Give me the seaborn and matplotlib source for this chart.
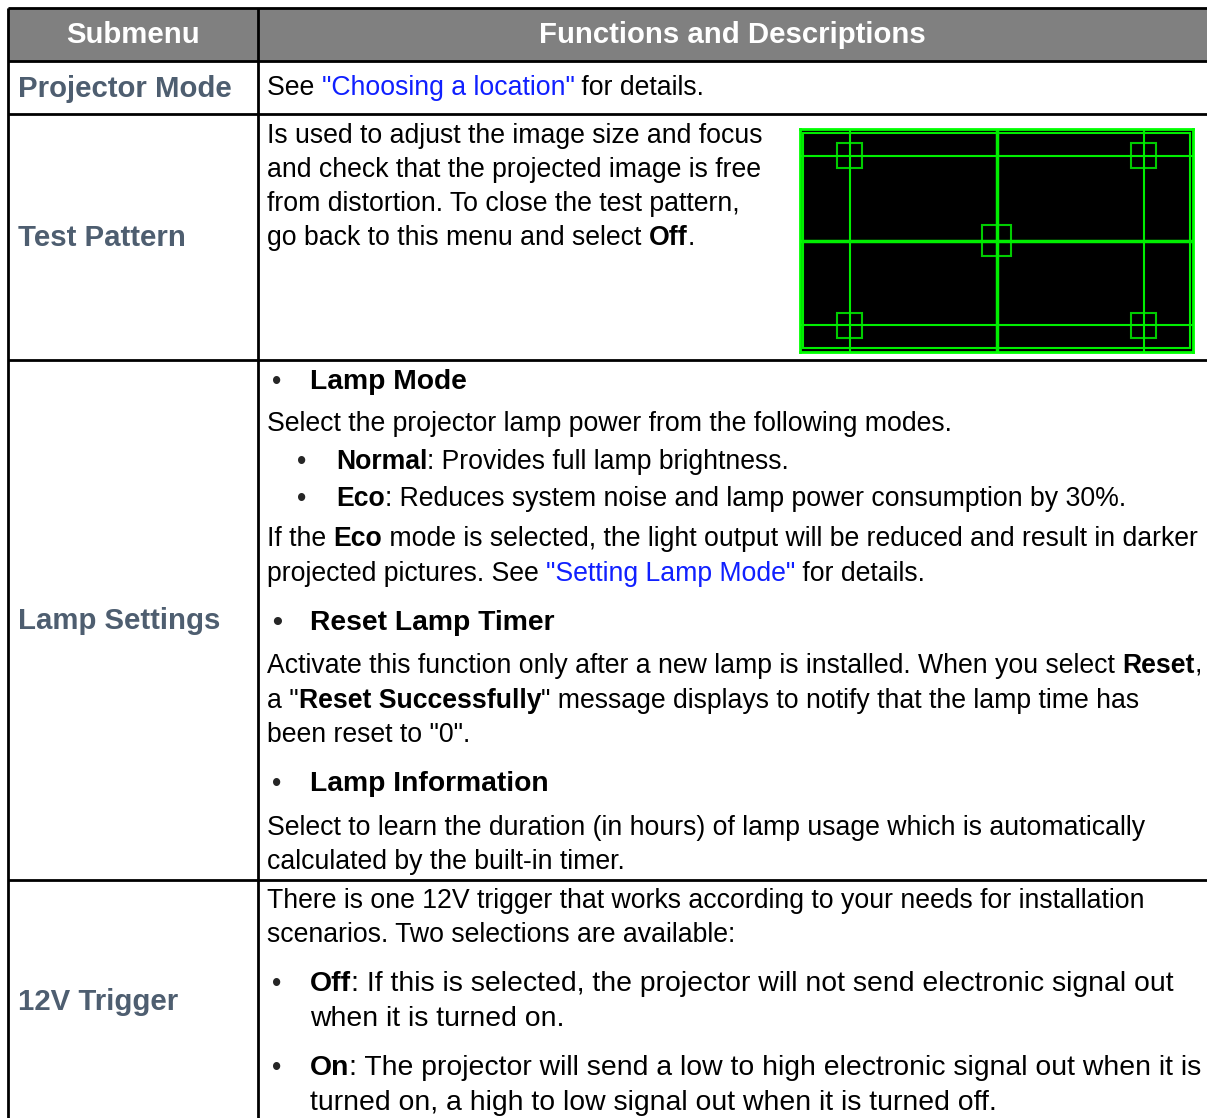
import re
import matplotlib
matplotlib.use("Agg")
import matplotlib.pyplot as plt
from matplotlib.patches import Rectangle
from matplotlib.font_manager import FontProperties
import seaborn as sns

# table content
header_labels = ["Submenu", "Functions and Descriptions"]
submenu_labels = ["Projector Mode", "Test Pattern", "Lamp Settings", "12V Trigger"]

# markup: **bold**, [[link]], line prefixes "# " heading bullet, "- " bullet, "-- " sub bullet
projector_lines = ['See [["Choosing a location"]] for details.']
test_pattern_lines = [
    "Is used to adjust the image size and focus",
    "and check that the projected image is free",
    "from distortion. To close the test pattern,",
    "go back to this menu and select **Off**.",
]
lamp_lines = [
    "# Lamp Mode",
    "Select the projector lamp power from the following modes.",
    "-- **Normal**: Provides full lamp brightness.",
    "-- **Eco**: Reduces system noise and lamp power consumption by 30%.",
    "If the **Eco** mode is selected, the light output will be reduced and result in darker",
    'projected pictures. See [["Setting Lamp Mode"]] for details.',
    "#! Reset Lamp Timer",
    "Activate this function only after a new lamp is installed. When you select **Reset**,",
    'a "**Reset Successfully**" message displays to notify that the lamp time has',
    'been reset to "0".',
    "# Lamp Information",
    "Select to learn the duration (in hours) of lamp usage which is automatically",
    "calculated by the built-in timer.",
]
trigger_lines = [
    "There is one 12V trigger that works according to your needs for installation",
    "scenarios. Two selections are available:",
    "- **Off**: If this is selected, the projector will not send electronic signal out",
    "  when it is turned on.",
    "- **On**: The projector will send a low to high electronic signal out when it is",
    "  turned on, a high to low signal out when it is turned off.",
]

# test pattern (fractions of the pattern box)
pattern_grid_x = [0.127, 0.5, 0.875]
pattern_grid_y = [0.12, 0.5, 0.88]
pattern_boxes = [(0.127, 0.12), (0.875, 0.12), (0.5, 0.5), (0.127, 0.88), (0.875, 0.88)]

# layout (pixels)
W, H = 1207, 1118
row_edges = [8, 61, 114, 360, 880, 1130]
col_edges = [8, 258, 1209]
label_baselines = [97, 246, 629, 1010]
body_baselines = [
    [95],
    [143, 177, 211, 245],
    [389, 431, 469, 506, 546, 581, 630, 673, 708, 742, 791, 835, 869],
    [908, 942, 991, 1026, 1075, 1110],
]
pattern_rect = (800, 129, 393, 223)

HEADER_BG = "#808080"
LABEL_COLOR = "#4e5e70"
LINK_COLOR = "#1020ff"
BODY_PT = 19.2
BULLET_PT = 20.4
LABEL_PT = 21.2
HEAD_PT = 20.3

sns.set_theme(style="white")
plt.rcParams["font.family"] = ["Liberation Sans", "DejaVu Sans"]

fig = plt.figure(figsize=(W / 100, H / 100), dpi=100)
ax = fig.add_axes([0, 0, 1, 1])
ax.set_xlim(0, W)
ax.set_ylim(H, 0)
ax.axis("off")
renderer = fig.canvas.get_renderer()


def text_width(s, size, weight):
    fp = FontProperties(family=plt.rcParams["font.family"], size=size, weight=weight)
    w1 = renderer.get_text_width_height_descent("|" + s + "|", fp, ismath=False)[0]
    w0 = renderer.get_text_width_height_descent("||", fp, ismath=False)[0]
    return w1 - w0


def rich(x, y, markup, size=BODY_PT, color="black", base_weight="normal"):
    for part in re.split(r"(\*\*.*?\*\*|\[\[.*?\]\])", markup):
        if not part:
            continue
        weight, col, s = base_weight, color, part
        if part.startswith("**"):
            weight, s = "bold", part[2:-2]
        elif part.startswith("[["):
            col, s = LINK_COLOR, part[2:-2]
        ax.text(x, y, s, fontsize=size, fontweight=weight, color=col,
                ha="left", va="baseline")
        x += text_width(s, size, weight)


def body_line(line, y):
    if line.startswith("#"):
        bold_bullet = line.startswith("#!")
        ax.text(272, y, "\u2022", fontsize=BODY_PT if not bold_bullet else HEAD_PT,
                fontweight="bold" if bold_bullet else "normal", va="baseline")
        rich(310, y, line.split(" ", 1)[1], size=HEAD_PT, base_weight="bold")
    elif line.startswith("-- "):
        ax.text(297, y, "\u2022", fontsize=BODY_PT, va="baseline")
        rich(336, y, line[3:])
    elif line.startswith("- "):
        ax.text(272, y, "\u2022", fontsize=BODY_PT, va="baseline")
        rich(310, y, line[2:], size=BULLET_PT)
    elif line.startswith("  "):
        rich(310, y, line[2:], size=BULLET_PT)
    else:
        rich(267, y, line)


# header
ax.add_patch(Rectangle((col_edges[0], row_edges[0]), col_edges[-1] - col_edges[0],
                       row_edges[1] - row_edges[0], color=HEADER_BG, zorder=0))
for i, lab in enumerate(header_labels):
    cx = (col_edges[i] + min(col_edges[i + 1], W)) / 2
    ax.text(cx, 43, lab, fontsize=LABEL_PT, fontweight="bold", color="white",
            ha="center", va="baseline")

# grid lines
ax.hlines(row_edges, col_edges[0], col_edges[-1], color="black", lw=2)
ax.vlines(col_edges, row_edges[0], row_edges[-1], color="black", lw=2)

# submenu labels
for lab, y in zip(submenu_labels, label_baselines):
    ax.text(18, y, lab, fontsize=LABEL_PT, fontweight="bold", color=LABEL_COLOR,
            ha="left", va="baseline")

# descriptions
for lines, ys in zip([projector_lines, test_pattern_lines, lamp_lines, trigger_lines],
                     body_baselines):
    for line, y in zip(lines, ys):
        body_line(line, y)

# test pattern picture
px, py, pw, ph = pattern_rect
pax = fig.add_axes([px / W, 1 - (py + ph) / H, pw / W, ph / H])
pax.set_xlim(0, 1)
pax.set_ylim(1, 0)
pax.set_facecolor("black")
pax.set_xticks([])
pax.set_yticks([])
for s in pax.spines.values():
    s.set_color("#00ff00")
    s.set_linewidth(2)
green = "#00ee00"
pax.add_patch(Rectangle((0.008, 0.016), 0.984, 0.968, fill=False, ec=green, lw=1.5))
for gx in pattern_grid_x:
    pax.axvline(gx, color=green, lw=2.5 if gx == 0.5 else 1.5)
for gy in pattern_grid_y:
    pax.axhline(gy, color=green, lw=2.5 if gy == 0.5 else 1.5)
for bx, by in pattern_boxes:
    hw, hh = (0.038, 0.068) if (bx, by) == (0.5, 0.5) else (0.032, 0.057)
    pax.add_patch(Rectangle((bx - hw, by - hh), 2 * hw, 2 * hh, fill=False,
                            ec="#00cc00", lw=1.5))

fig.savefig("out.png", dpi=100)
